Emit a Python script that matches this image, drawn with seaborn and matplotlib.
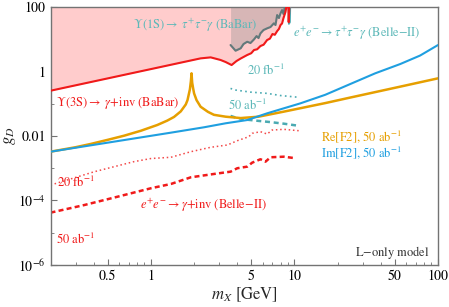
import matplotlib
matplotlib.use("Agg")
import matplotlib.pyplot as plt
import seaborn as sns
import numpy as np

# --- data (m_X in GeV, g_D) ---
babar3s_m = [0.2, 1.0, 2.22, 2.61, 3.06, 3.32, 3.65, 3.95, 4.22, 4.69, 5.0, 5.23, 5.5, 5.8,
             6.1, 6.45, 6.75, 7.03, 7.3, 7.58, 7.8, 8.0, 8.2, 8.39, 8.66, 8.92, 9.05, 9.12, 9.25]
babar3s_g = [0.254, 1.19, 2.56, 2.75, 2.28, 1.97, 1.59, 2.12, 2.53, 3.26, 3.7, 4.65, 4.9, 6.19,
             6.8, 9.48, 10.5, 14.6, 13.8, 18.0, 21.0, 27.7, 31.0, 45.6, 70.0, 150.0, 150.0, 34.0, 150.0]

babar1s_m = [3.59, 3.89, 4.22, 4.42, 4.69, 4.94, 5.23, 5.45, 5.62, 5.8, 6.09, 6.46, 6.81,
             7.19, 7.38, 7.58, 7.8, 8.0, 8.2, 8.39, 8.66]
babar1s_g = [6.64, 4.42, 5.24, 7.13, 8.39, 7.65, 9.95, 12.6, 10.9, 15.3, 19.4, 21.9, 24.0,
             31.3, 27.7, 56.5, 45.6, 63.8, 80.7, 60.7, 130.0]

belle_tt_m = [9.12, 9.15, 9.3, 9.38]
belle_tt_g = [200.0, 30.0, 34.0, 200.0]

belle_tt20_m = [3.59, 3.8, 4.94, 6.46, 8.0, 10.5]
belle_tt20_g = [0.30, 0.27, 0.23, 0.21, 0.18, 0.16]

belle_tt50_m = [3.59, 4.0, 4.69, 5.8, 6.81, 8.5, 10.5]
belle_tt50_g = [0.042, 0.036, 0.032, 0.029, 0.027, 0.024, 0.021]

re_f2_m = [0.2, 0.3, 0.383, 0.5, 0.65, 0.85, 1.11, 1.3, 1.45, 1.615, 1.75, 1.80, 1.87, 1.90,
           1.92, 1.94, 1.97, 2.0, 2.08, 2.22, 2.5, 2.75, 3.32, 4.22, 5.62, 8.39, 16.4, 24.5,
           54.6, 100.0]
re_f2_g = [0.00326, 0.0045, 0.0057, 0.0076, 0.0102, 0.0145, 0.022, 0.03, 0.039, 0.058, 0.095,
           0.13, 0.28, 0.5, 0.88, 0.45, 0.3, 0.21, 0.13, 0.081, 0.056, 0.0454, 0.0397, 0.036,
           0.0397, 0.0567, 0.105, 0.156, 0.34, 0.615]

im_f2_m = [0.2, 1.38, 2.34, 3.32, 4.69, 6.46, 11.0, 16.4, 24.5, 36.5, 54.6, 75.0, 100.0]
im_f2_g = [0.00326, 0.0127, 0.0186, 0.0248, 0.0313, 0.0506, 0.103, 0.19, 0.41, 0.879,
           1.71, 3.13, 6.64]

belle_inv20_m = [0.2, 0.404, 0.762, 1.0, 1.38, 1.9, 2.61, 3.41, 4.0, 4.81, 5.08, 5.8,
                 6.46, 6.99, 8.43, 10.7]
belle_inv20_g = [3.0e-4, 7.8e-4, 1.6e-3, 2.0e-3, 2.19e-3, 3.26e-3, 4.46e-3, 5.26e-3,
                 7.14e-3, 9.5e-3, 0.0121, 0.0136, 0.0115, 0.0153, 0.0161, 0.0146]

belle_inv50_m = [0.2, 0.343, 0.587, 1.0, 1.38, 1.9, 2.75, 3.59, 4.0, 4.69, 5.08, 5.8,
                 6.29, 6.81, 8.43, 10.2]
belle_inv50_g = [4.19e-5, 7.2e-5, 1.31e-4, 2.39e-4, 3.25e-4, 5.24e-4, 6.64e-4, 7.82e-4,
                 1.0e-3, 1.12e-3, 1.49e-3, 1.9e-3, 1.6e-3, 2.19e-3, 2.28e-3, 2.04e-3]

x_ticks = [0.5, 1, 5, 10, 50, 100]
x_ticklabels = ["0.5", "1", "5", "10", "50", "100"]
y_ticks = [1e-6, 1e-4, 1e-2, 1, 100]
y_ticklabels = [r"$10^{-6}$", r"$10^{-4}$", "0.01", "1", "100"]

RED = "#f01a1a"
ORANGE = "#e69f00"
BLUE = "#1f9fe0"
TEAL = "#5cb8b8"
TEAL_LINE = "#4aaab2"
GREY = "#62797b"

sns.set_style("ticks")
plt.rcParams["font.family"] = ["STIXGeneral", "DejaVu Serif"]
plt.rcParams["mathtext.fontset"] = "stix"

fig = plt.figure(figsize=(4.49, 3.07), dpi=100)
ax = fig.add_axes([0.1125, 0.137, 0.863, 0.840])
ax.set_xscale("log")
ax.set_yscale("log")

# excluded regions
ax.fill_between(babar3s_m, babar3s_g, 1e3, color="#ffcccc", lw=0, zorder=1)
ax.fill_between(babar1s_m, babar1s_g, 1e3, color="#8f8f8f", alpha=0.35, lw=0, zorder=1)

sns.lineplot(x=babar3s_m, y=babar3s_g, ax=ax, color=RED, lw=1.5, sort=False, estimator=None, zorder=4)
sns.lineplot(x=babar1s_m, y=babar1s_g, ax=ax, color=GREY, lw=1.5, sort=False, estimator=None, zorder=3)
sns.lineplot(x=belle_tt_m, y=belle_tt_g, ax=ax, color=TEAL_LINE, lw=1.3, sort=False, estimator=None, zorder=3)
sns.lineplot(x=belle_tt20_m, y=belle_tt20_g, ax=ax, color=TEAL_LINE, lw=1.2,
             linestyle=(0, (1, 2)), sort=False, estimator=None)
sns.lineplot(x=belle_tt50_m, y=belle_tt50_g, ax=ax, color=TEAL_LINE, lw=1.8,
             linestyle=(0, (2, 1.5)), sort=False, estimator=None)
sns.lineplot(x=re_f2_m, y=re_f2_g, ax=ax, color=ORANGE, lw=1.8, sort=False, estimator=None, zorder=3)
sns.lineplot(x=im_f2_m, y=im_f2_g, ax=ax, color=BLUE, lw=1.5, sort=False, estimator=None, zorder=3)
sns.lineplot(x=belle_inv20_m, y=belle_inv20_g, ax=ax, color=RED, lw=1.1, alpha=0.8,
             linestyle=(0, (1, 1.8)), sort=False, estimator=None)
sns.lineplot(x=belle_inv50_m, y=belle_inv50_g, ax=ax, color=RED, lw=1.8,
             linestyle=(0, (2, 1.3)), sort=False, estimator=None)

ax.set_xlim(0.2, 100)
ax.set_ylim(1e-6, 100)
ax.set_xticks(x_ticks)
ax.set_xticklabels(x_ticklabels)
ax.set_yticks(y_ticks)
ax.set_yticklabels(y_ticklabels)
ax.yaxis.set_minor_locator(matplotlib.ticker.LogLocator(base=10, subs=[1.0], numticks=20))
ax.xaxis.set_minor_locator(matplotlib.ticker.LogLocator(base=10, subs=np.arange(2, 10), numticks=20))
ax.yaxis.set_minor_formatter(matplotlib.ticker.NullFormatter())
ax.xaxis.set_minor_formatter(matplotlib.ticker.NullFormatter())
ax.tick_params(which="both", direction="in", colors="0.45", labelcolor="black", labelsize=10)
ax.tick_params(which="major", length=4)
ax.tick_params(which="minor", length=2.5)
for s in ax.spines.values():
    s.set_color("0.45")
    s.set_linewidth(1.0)

ax.set_xlabel(r"$m_X$ [GeV]", fontsize=12, labelpad=2)
ax.set_ylabel(r"$g_D$", fontsize=12, labelpad=0)

fs = 9
tr = ax.transAxes
ax.text(0.213, 0.930, r"$\Upsilon$(1S)$\rightarrow$ $\tau^{+}\tau^{-}\gamma$ (BaBar)", color=TEAL,
        fontsize=fs, transform=tr, va="center")
ax.text(0.626, 0.899, r"$e^{+}e^{-}\rightarrow\tau^{+}\tau^{-}\gamma$ (Belle$-$II)", color=TEAL,
        fontsize=fs, transform=tr, va="center")
ax.text(0.507, 0.756, r"20 fb$^{-1}$", color=TEAL, fontsize=fs, transform=tr, va="center")
ax.text(0.458, 0.620, r"50 ab$^{-1}$", color=TEAL, fontsize=fs, transform=tr, va="center")
ax.text(0.014, 0.628, r"$\Upsilon$(3S)$\rightarrow$ $\gamma$+inv (BaBar)", color=RED,
        fontsize=fs, transform=tr, va="center")
ax.text(0.698, 0.496, r"Re[F2], 50 ab$^{-1}$", color=ORANGE, fontsize=fs, transform=tr, va="center")
ax.text(0.698, 0.434, r"Im[F2], 50 ab$^{-1}$", color=BLUE, fontsize=fs, transform=tr, va="center")
ax.text(0.017, 0.318, r"20 fb$^{-1}$", color=RED, fontsize=fs, transform=tr, va="center")
ax.text(0.231, 0.233, r"$e^{+}e^{-}\rightarrow\gamma$+inv (Belle$-$II)", color=RED,
        fontsize=fs, transform=tr, va="center")
ax.text(0.014, 0.097, r"50 ab$^{-1}$", color=RED, fontsize=fs, transform=tr, va="center")
ax.text(0.979, 0.050, r"L$-$only model", color="#333333", fontsize=fs, transform=tr,
        va="center", ha="right")

fig.savefig("out.png", dpi=100)
